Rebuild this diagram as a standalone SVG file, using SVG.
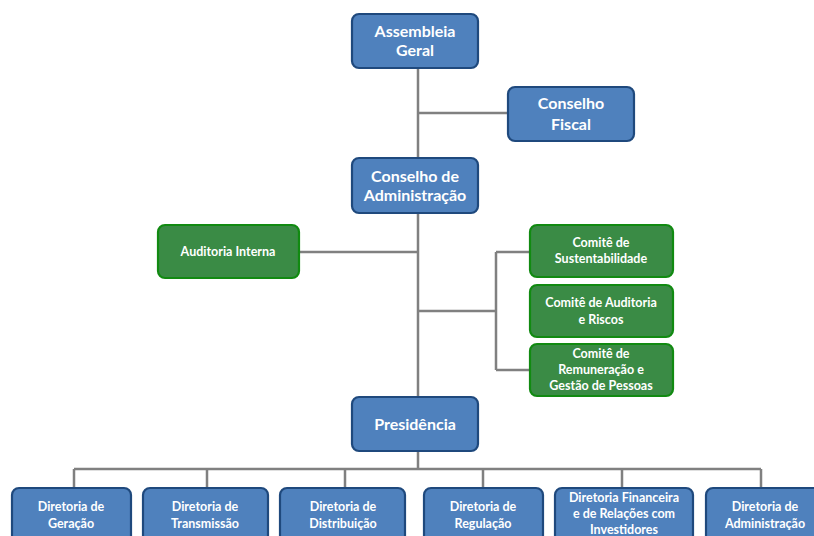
<svg xmlns="http://www.w3.org/2000/svg" width="814" height="536" viewBox="0 0 814 536">
<defs>
<style>
.blue{fill:#4F81BD;stroke:#1F497D;stroke-width:2.2}
.green{fill:#3A8B45;stroke:#118A11;stroke-width:2.2}
.ln{stroke:#808080;stroke-width:2.5;fill:none}
text{font-family:Lato,"Open Sans","Liberation Sans",sans-serif;font-weight:bold;fill:#fff;text-anchor:middle}
.big{font-size:16px}
.sm{font-size:12.5px}
</style>
</defs>
<rect width="814" height="536" fill="#fff"/>
<g id="connectors">
<path class="ln" d="M418 68V398M418 113H508M300 252H418M418 311H496M496 252V370M496 252H530M496 370H530M418 451V469M74 469H761M74 469V488M207 469V488M345 469V488M483 469V488M622 469V488M761 469V488"/>
</g>
<g id="assembleia"><rect class="blue" x="352" y="14" width="126" height="54" rx="7"/><text class="big" x="415" y="37">Assembleia</text><text class="big" x="415" y="56">Geral</text></g>
<g id="fiscal"><rect class="blue" x="508" y="87" width="126" height="54" rx="7"/><text class="big" x="571" y="109">Conselho</text><text class="big" x="571" y="130">Fiscal</text></g>
<g id="conselho-adm"><rect class="blue" x="352" y="158" width="126" height="55" rx="7"/><text class="big" x="415" y="182">Conselho de</text><text class="big" x="415" y="201">Administração</text></g>
<g id="auditoria-interna"><rect class="green" x="158" y="225" width="141" height="53" rx="7"/><text class="sm" x="228" y="256">Auditoria Interna</text></g>
<g id="comite-sust"><rect class="green" x="530" y="225" width="143" height="52" rx="7"/><text class="sm" x="601" y="247">Comitê de</text><text class="sm" x="601" y="263">Sustentabilidade</text></g>
<g id="comite-aud"><rect class="green" x="530" y="285" width="143" height="52" rx="7"/><text class="sm" x="601" y="307">Comitê de Auditoria</text><text class="sm" x="601" y="324">e Riscos</text></g>
<g id="comite-rem"><rect class="green" x="530" y="344" width="143" height="52" rx="7"/><text class="sm" x="601" y="358">Comitê de</text><text class="sm" x="601" y="374">Remuneração e</text><text class="sm" x="601" y="390">Gestão de Pessoas</text></g>
<g id="presidencia"><rect class="blue" x="352" y="397" width="126" height="54" rx="7"/><text class="big" x="415" y="430">Presidência</text></g>
<g id="dir-geracao"><rect class="blue" x="12" y="488" width="119" height="60" rx="7"/><text class="sm" x="71" y="511">Diretoria de</text><text class="sm" x="71" y="528">Geração</text></g>
<g id="dir-transmissao"><rect class="blue" x="143" y="488" width="125" height="60" rx="7"/><text class="sm" x="205" y="511">Diretoria de</text><text class="sm" x="205" y="528">Transmissão</text></g>
<g id="dir-distribuicao"><rect class="blue" x="280" y="488" width="125" height="60" rx="7"/><text class="sm" x="343" y="511">Diretoria de</text><text class="sm" x="343" y="528">Distribuição</text></g>
<g id="dir-regulacao"><rect class="blue" x="424" y="488" width="119" height="60" rx="7"/><text class="sm" x="483" y="511">Diretoria de</text><text class="sm" x="483" y="528">Regulação</text></g>
<g id="dir-financeira"><rect class="blue" x="555" y="488" width="138" height="60" rx="7"/><text class="sm" x="624" y="502">Diretoria Financeira</text><text class="sm" x="624" y="518">e de Relações com</text><text class="sm" x="624" y="534">Investidores</text></g>
<g id="dir-administracao"><rect class="blue" x="706" y="488" width="120" height="60" rx="7"/><text class="sm" x="765" y="511">Diretoria de</text><text class="sm" x="765" y="528">Administração</text></g>
</svg>
